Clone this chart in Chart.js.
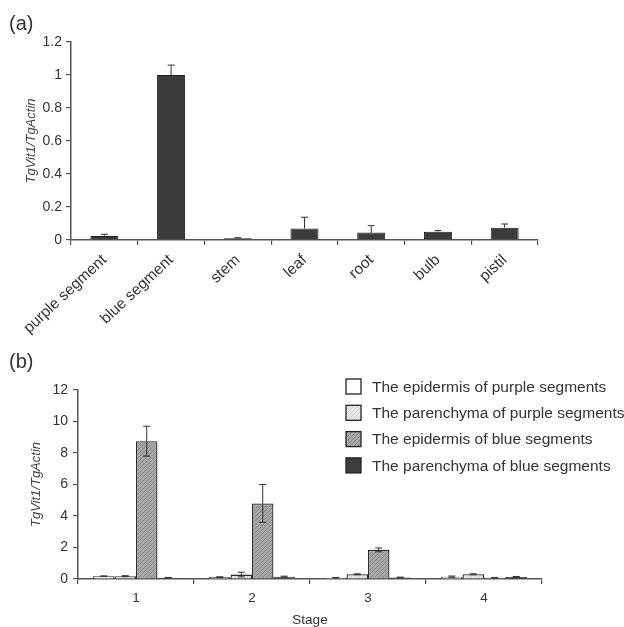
<!DOCTYPE html>
<html>
<head>
<meta charset="utf-8">
<script src="https://cdn.jsdelivr.net/npm/chart.js@4.4.0/dist/chart.umd.min.js"></script>
<style>
  body { margin: 0; background: #fff; width: 624px; height: 627px; position: relative; overflow: hidden; font-family: "Liberation Sans", Arial, sans-serif; }
  canvas { position: absolute; left: 0; }
  #chartA { top: 0; }
  #chartB { top: 340px; }
  .panel { position: absolute; left: 9px; font-size: 20px; line-height: 1; color: #333; }
</style>
</head>
<body>
<canvas id="chartA" width="624" height="345"></canvas>
<canvas id="chartB" width="624" height="287"></canvas>
<div class="panel" style="top:13px">(a)</div>
<div class="panel" style="top:351px">(b)</div>
<script>
// (a) expression across tissues
const tissues = ["purple segment", "blue segment", "stem", "leaf", "root", "bulb", "pistil"];
const tissueValues = [0.025, 1.0, 0.01, 0.07, 0.045, 0.05, 0.075];
const tissueErrors = [0.01, 0.06, 0.004, 0.068, 0.042, 0.007, 0.022];

// (b) expression by stage
const stages = ["1", "2", "3", "4"];
const seriesNames = [
  "The epidermis of purple segments",
  "The parenchyma of purple segments",
  "The epidermis of blue segments",
  "The parenchyma of blue segments"
];
const epidermisPurple = [0.18, 0.12, 0.08, 0.15];
const epidermisPurpleErr = [0.02, 0.02, 0.02, 0.04];
const parenchymaPurple = [0.18, 0.28, 0.3, 0.3];
const parenchymaPurpleErr = [0.03, 0.15, 0.03, 0.03];
const epidermisBlue = [8.75, 4.8, 1.85, 0.08];
const epidermisBlueErr = [0.95, 1.2, 0.12, 0.02];
const parenchymaBlue = [0.08, 0.15, 0.1, 0.13];
const parenchymaBlueErr = [0.02, 0.03, 0.02, 0.03];

Chart.defaults.font.family = "'Liberation Sans', Arial, sans-serif";
Chart.defaults.color = "#333";

// diagonal hatch like the scanned bars
function hatch(base, line) {
  const c = document.createElement("canvas");
  c.width = 4; c.height = 4;
  const g = c.getContext("2d");
  g.fillStyle = base;
  g.fillRect(0, 0, 4, 4);
  g.strokeStyle = line;
  g.lineWidth = 1;
  g.beginPath(); g.moveTo(0, 4); g.lineTo(4, 0); g.stroke();
  return g.createPattern(c, "repeat");
}

// error whiskers, using each bar's own position
const errorBars = {
  id: "errorBars",
  afterDatasetsDraw(chart, args, opts) {
    const ctx = chart.ctx;
    const y = chart.scales.y;
    ctx.save();
    ctx.strokeStyle = "#333";
    ctx.lineWidth = 1;
    chart.data.datasets.forEach((ds, i) => {
      if (!ds.errors) return;
      chart.getDatasetMeta(i).data.forEach((bar, j) => {
        const v = ds.data[j], e = ds.errors[j];
        const top = y.getPixelForValue(v + e);
        const bottom = opts.both ? y.getPixelForValue(Math.max(v - e, 0)) : bar.y;
        ctx.beginPath();
        ctx.moveTo(bar.x, bottom); ctx.lineTo(bar.x, top);
        ctx.moveTo(bar.x - 3.5, top); ctx.lineTo(bar.x + 3.5, top);
        if (opts.both) { ctx.moveTo(bar.x - 3.5, bottom); ctx.lineTo(bar.x + 3.5, bottom); }
        ctx.stroke();
      });
    });
    ctx.restore();
  }
};

// legend drawn inside the plot, top right
const boxLegend = {
  id: "boxLegend",
  afterDraw(chart) {
    const ctx = chart.ctx;
    const x0 = 346, y0 = 39, gap = 26.3, size = 15;
    ctx.save();
    ctx.font = "15.5px 'Liberation Sans', Arial, sans-serif";
    ctx.textBaseline = "middle";
    chart.data.datasets.forEach((ds, i) => {
      const y = y0 + i * gap;
      ctx.fillStyle = ds.backgroundColor;
      ctx.fillRect(x0, y, size, size);
      ctx.strokeStyle = "#222";
      ctx.lineWidth = 1.3;
      ctx.strokeRect(x0, y, size, size);
      ctx.fillStyle = "#333";
      ctx.fillText(ds.label, x0 + 26, y + size / 2 + 1);
    });
    ctx.restore();
  }
};

const axisGrid = { drawOnChartArea: false, tickLength: 5, color: "#555", lineWidth: 1.2 };
const axisBorder = { color: "#555", width: 1.5 };
const yTitleFont = { size: 13, style: "italic" };

new Chart(document.getElementById("chartA"), {
  type: "bar",
  data: {
    labels: tissues,
    datasets: [{
      data: tissueValues,
      errors: tissueErrors,
      backgroundColor: "#3b3b3b",
      borderColor: "#1e1e1e",
      borderWidth: 1,
      barPercentage: 0.42,
      categoryPercentage: 1
    }]
  },
  options: {
    responsive: false,
    animation: false,
    layout: { padding: { left: 0, right: 86, top: 42, bottom: 0 } },
    plugins: { legend: { display: false }, tooltip: { enabled: false }, errorBars: { both: false } },
    scales: {
      x: {
        grid: axisGrid,
        border: axisBorder,
        ticks: { minRotation: 43, maxRotation: 43, font: { size: 15.5 }, color: "#333", padding: 6 },
        afterFit: s => { s.height = 105; }
      },
      y: {
        min: 0,
        max: 1.2,
        grid: axisGrid,
        border: axisBorder,
        ticks: { stepSize: 0.2, font: { size: 14 }, color: "#333", padding: 4, callback: v => String(+v.toFixed(1)) },
        title: { display: true, text: "TgVit1/TgActin", font: yTitleFont, color: "#444", padding: { top: 24, bottom: 0 } },
        afterFit: s => { s.width = 71; }
      }
    }
  },
  plugins: [errorBars]
});

new Chart(document.getElementById("chartB"), {
  type: "bar",
  data: {
    labels: stages,
    datasets: [
      { label: seriesNames[0], data: epidermisPurple, errors: epidermisPurpleErr, backgroundColor: "#ffffff" },
      { label: seriesNames[1], data: parenchymaPurple, errors: parenchymaPurpleErr, backgroundColor: hatch("#e8e8e8", "#d2d2d2") },
      { label: seriesNames[2], data: epidermisBlue, errors: epidermisBlueErr, backgroundColor: hatch("#a6a6a6", "#8c8c8c") },
      { label: seriesNames[3], data: parenchymaBlue, errors: parenchymaBlueErr, backgroundColor: "#3d3d3d" }
    ]
  },
  options: {
    responsive: false,
    animation: false,
    datasets: { bar: { barPercentage: 1, categoryPercentage: 0.74, borderColor: "#2a2a2a", borderWidth: 1.3 } },
    layout: { padding: { left: 0, right: 82, top: 50, bottom: 0 } },
    plugins: { legend: { display: false }, tooltip: { enabled: false }, errorBars: { both: true } },
    scales: {
      x: {
        grid: axisGrid,
        border: axisBorder,
        ticks: { font: { size: 13.5 }, color: "#333", padding: 6 },
        title: { display: true, text: "Stage", font: { size: 13.5, lineHeight: 1 }, color: "#333", padding: { top: 0, bottom: 0 } },
        afterFit: s => { s.height = 48; }
      },
      y: {
        min: 0,
        max: 12,
        grid: axisGrid,
        border: axisBorder,
        ticks: { stepSize: 2, font: { size: 14 }, color: "#333", padding: 5 },
        title: { display: true, text: "TgVit1/TgActin", font: yTitleFont, color: "#444", padding: { top: 29, bottom: 0 } },
        afterFit: s => { s.width = 78; }
      }
    }
  },
  plugins: [errorBars, boxLegend]
});
</script>
</body>
</html>
